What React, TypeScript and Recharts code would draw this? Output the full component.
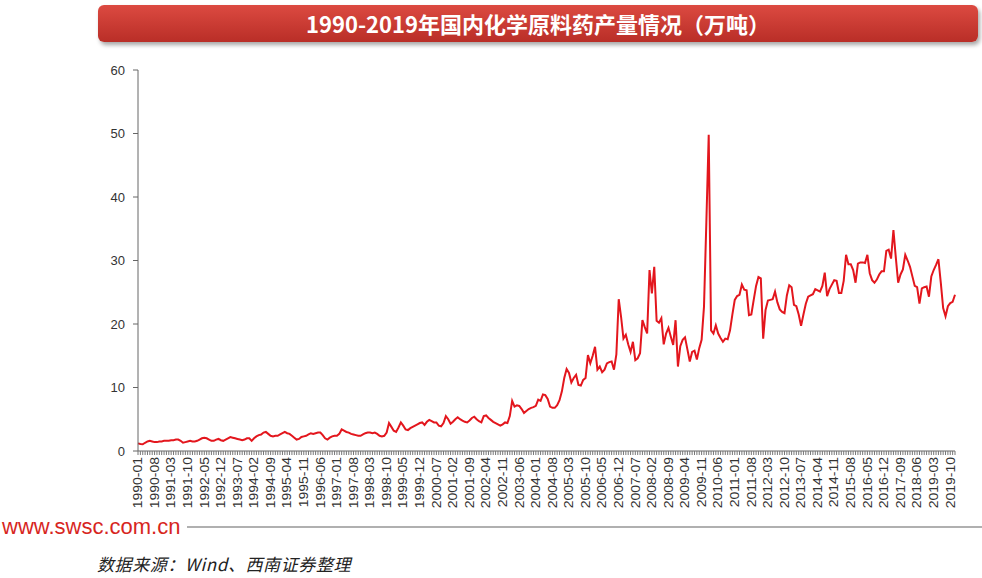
import React from "react";
import { LineChart, Line, XAxis, YAxis } from "recharts";

// monthly output of chemical APIs in China, 10k tonnes
// 1990-2012: Jan..Dec; from 2013 on Jan/Feb are not reported (Mar..Dec only)
const output1990s = [
  1.2, 1.1, 1.05, 1.3, 1.5, 1.6, 1.5, 1.4, 1.4, 1.5, 1.5, 1.6,
  1.6, 1.6, 1.7, 1.7, 1.8, 1.8, 1.6, 1.3, 1.4, 1.5, 1.6, 1.5,
  1.5, 1.6, 1.8, 2.0, 2.1, 2.0, 1.8, 1.6, 1.6, 1.8, 1.9, 1.7,
  1.6, 1.8, 2.0, 2.2, 2.1, 2.0, 1.9, 1.8, 1.7, 1.8, 2.0, 2.0,
  1.6, 2.0, 2.3, 2.5, 2.6, 2.9, 3.0, 2.7, 2.4, 2.3, 2.4, 2.4,
  2.6, 2.8, 3.0, 2.8, 2.7, 2.4, 2.1, 1.8, 1.9, 2.2, 2.3, 2.4,
  2.6, 2.8, 2.7, 2.8, 2.9, 2.9, 2.5, 2.0, 1.8, 2.1, 2.3, 2.4,
  2.4, 2.7, 3.4, 3.2, 3.0, 2.9, 2.7, 2.6, 2.5, 2.4, 2.4, 2.6,
  2.8, 2.9, 2.9, 2.8, 2.9, 2.7, 2.4, 2.3, 2.4, 2.9, 4.4, 3.8,
  3.2, 3.0, 3.7, 4.5, 4.0, 3.4, 3.3, 3.6, 3.8, 4.0, 4.2, 4.4,
];

const output2000s = [
  4.5, 4.1, 4.6, 4.9, 4.7, 4.5, 4.5, 4.0, 3.9, 4.4, 5.5, 5.0,
  4.3, 4.6, 5.0, 5.3, 5.0, 4.8, 4.6, 4.5, 4.8, 5.2, 5.4, 5.0,
  4.7, 4.5, 5.5, 5.6, 5.2, 4.9, 4.6, 4.4, 4.2, 4.0, 4.2, 4.5,
  4.4, 5.5, 7.9, 7.0, 7.2, 7.1, 6.6, 6.0, 6.3, 6.6, 6.8, 6.9,
  7.1, 8.1, 7.9, 8.9, 8.8, 8.2, 7.0, 6.8, 6.8, 7.2, 8.0, 9.4,
  11.5, 12.9, 12.3, 10.8, 11.5, 12.0, 10.4, 10.3, 11.2, 11.5, 15.1, 13.8,
  15.0, 16.4, 12.8, 13.3, 12.4, 12.8, 13.8, 14.0, 14.1, 12.8, 15.2, 23.9,
  21.1, 17.7, 18.3, 16.8, 15.6, 17.2, 14.3, 14.6, 15.4, 20.6, 19.5, 18.5,
  28.5, 24.8, 29.0, 20.5, 20.2, 20.9, 16.8, 18.5, 19.4, 18.0, 16.7, 20.6,
  13.3, 16.5, 17.5, 17.9, 16.0, 14.1, 15.6, 15.8, 14.4, 16.2, 17.5, 22.7,
];

const output2010to2012 = [
  36.0, 49.8, 19.0, 18.5, 19.8, 18.5, 17.8, 17.2, 17.7, 17.6, 19.0, 21.5,
  23.8, 24.4, 24.6, 26.2, 25.4, 25.3, 21.4, 21.5, 23.8, 26.0, 27.4, 27.2,
  17.7, 22.2, 23.7, 23.8, 23.9, 25.1, 23.4, 22.3, 21.9, 21.7, 24.5, 26.1,
];

// Mar..Dec per year
const output2013to2019 = [
  25.8, 23.0, 22.8, 21.5, 19.7, 21.5, 23.2, 24.3, 24.5, 24.7,
  25.5, 25.3, 25.1, 26.0, 28.1, 24.4, 25.5, 26.2, 26.9, 26.8,
  24.9, 24.9, 26.8, 30.9, 29.4, 29.4, 28.5, 26.5, 29.5, 29.7,
  29.7, 29.6, 30.9, 28.0, 26.9, 26.5, 27.0, 27.8, 28.3, 28.3,
  31.5, 31.7, 30.3, 34.8, 30.5, 26.5, 27.8, 28.6, 30.9, 30.0,
  29.0, 27.5, 26.0, 25.8, 23.2, 25.6, 25.8, 25.9, 24.3, 27.5,
  28.5, 29.3, 30.2, 26.5, 22.5, 21.2, 22.8, 23.3, 23.5, 24.6,
];

const yTicks = [0, 10, 20, 30, 40, 50, 60];
const LABEL_EVERY = 7;

const months: string[] = [];
for (let y = 1990; y <= 2019; y++) {
  const first = y >= 2013 ? 3 : 1;
  for (let m = first; m <= 12; m++) months.push(`${y}-${String(m).padStart(2, "0")}`);
}
const output = [...output1990s, ...output2000s, ...output2010to2012, ...output2013to2019];
const data = months.map((m, i) => ({ month: m, value: output[i] }));

const MonthTick = (props: any) => {
  const { x, y, payload, index } = props;
  if (index % LABEL_EVERY !== 0) return null;
  return (
    <text
      transform={`translate(${x}, ${y}) rotate(-90) scale(1, 0.85)`}
      dy={5}
      textAnchor="end"
      fontSize={14}
      fill="#333"
      fontFamily="'Liberation Sans', Arial, sans-serif"
    >
      {payload.value}
    </text>
  );
};

export default function App() {
  return (
    <div
      style={{
        position: "absolute",
        left: 0,
        top: 0,
        width: 982,
        height: 578,
        background: "#fff",
        overflow: "hidden",
      }}
    >
      <div
        style={{
          position: "absolute",
          left: 98,
          top: 5,
          width: 880,
          height: 37,
          borderRadius: 6,
          background: "linear-gradient(#dc4a41, #b92e27)",
          boxShadow: "2px 3px 4px rgba(0,0,0,0.35)",
          color: "#fff",
          fontFamily: "'Noto Sans CJK SC', sans-serif",
          fontWeight: 700,
          fontSize: 22,
          lineHeight: "37px",
          textAlign: "center",
        }}
      >
        1990-2019年国内化学原料药产量情况（万吨）
      </div>

      <div style={{ position: "absolute", left: 0, top: 0 }}>
        <LineChart
          width={982}
          height={520}
          data={data}
          margin={{ top: 70, right: 27, bottom: 9, left: 98 }}
        >
          <XAxis
            dataKey="month"
            interval={0}
            height={60}
            tick={MonthTick}
            tickSize={4}
            tickMargin={2}
            axisLine={{ stroke: "#666" }}
            tickLine={{ stroke: "#777" }}
          />
          <YAxis
            width={40}
            domain={[0, 60]}
            ticks={yTicks}
            tickSize={5}
            tickMargin={8}
            axisLine={{ stroke: "#666" }}
            tickLine={{ stroke: "#666" }}
            tick={{
              fontSize: 13,
              fill: "#333",
              fontFamily: "'Liberation Sans', Arial, sans-serif",
            }}
          />
          <Line
            type="linear"
            dataKey="value"
            stroke="#e3161d"
            strokeWidth={2}
            dot={false}
            isAnimationActive={false}
          />
        </LineChart>
      </div>

      <svg
        width={982}
        height={578}
        style={{ position: "absolute", left: 0, top: 0, pointerEvents: "none" }}
      >
        <text
          x={2}
          y={534}
          fontSize={22}
          fill="#d7261e"
          fontFamily="'Liberation Sans', Arial, sans-serif"
        >
          www.swsc.com.cn
        </text>
        <line x1={187} y1={527} x2={982} y2={527} stroke="#b0b0b0" strokeWidth={2} />
        <text
          x={97}
          y={571}
          fontSize={17}
          letterSpacing={0.6}
          fontStyle="italic"
          fill="#222"
          fontFamily="'Noto Sans CJK SC', sans-serif"
        >
          数据来源：Wind、西南证券整理
        </text>
      </svg>
    </div>
  );
}
